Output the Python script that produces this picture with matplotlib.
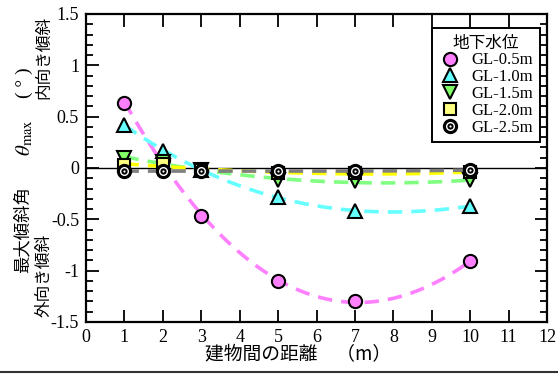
import numpy as np
import matplotlib
matplotlib.use("Agg")
import matplotlib.pyplot as plt
from matplotlib.lines import Line2D
from matplotlib.legend_handler import HandlerTuple
from matplotlib.ticker import MultipleLocator, FormatStrFormatter

plt.rcParams["mathtext.fontset"] = "stix"

distance = [1, 2, 3, 5, 7, 10]
series_labels = ["GL-0.5m", "GL-1.0m", "GL-1.5m", "GL-2.0m", "GL-2.5m"]
tilt_gl05 = [0.63, 0.08, -0.47, -1.10, -1.30, -0.91]
tilt_gl10 = [0.42, 0.17, -0.02, -0.28, -0.42, -0.37]
tilt_gl15 = [0.10, 0.06, -0.02, -0.12, -0.13, -0.12]
tilt_gl20 = [0.03, 0.04, -0.02, -0.05, -0.05, -0.04]
tilt_gl25 = [-0.03, -0.03, -0.03, -0.03, -0.03, -0.02]
x_ticks = list(range(0, 13))
y_ticks = [-1.5, -1.0, -0.5, 0.0, 0.5, 1.0, 1.5]

series = [tilt_gl05, tilt_gl10, tilt_gl15, tilt_gl20, tilt_gl25]
face_colors = ["#ff80ff", "#66ffff", "#80ff66", "#ffff80", "black"]
line_colors = ["#ff80ff", "#66ffff", "#80ff80", "#ffff00", "#808080"]
markers = ["o", "^", "v", "s", "o"]

W, H = 558, 374
fig = plt.figure(figsize=(W / 100, H / 100), dpi=100)
ax = fig.add_axes([86 / W, 1 - 322 / H, (547 - 86) / W, (322 - 14) / H])

serif = "Liberation Serif"
jp = ["Noto Sans CJK JP", "DejaVu Sans"]

ax.axhline(0, color="black", lw=1.0, zorder=2)

xs = np.linspace(1, 10, 200)
for vals, lc in zip(series, line_colors):
    coef = np.polyfit(distance, vals, 3)
    ax.plot(xs, np.polyval(coef, xs), color=lc, lw=2.6, dashes=(4, 2.5), zorder=3)

ms = 9.5
for vals, fc, mk in zip(series, face_colors, markers):
    ax.plot(distance, vals, linestyle="none", marker=mk, ms=ms if mk != "s" else 8.5,
            mfc=fc, mec="black", mew=1.5, zorder=5)
# ring pattern for the deepest level
ax.plot(distance, tilt_gl25, linestyle="none", marker="o", ms=5.5, mfc="none",
        mec="white", mew=1.0, zorder=6)
ax.plot(distance, tilt_gl25, linestyle="none", marker="o", ms=1.6, mfc="white",
        mec="white", mew=0, zorder=7)

ax.set_xlim(0, 12)
ax.set_ylim(-1.5, 1.5)
ax.set_xticks(x_ticks)
ax.set_yticks(y_ticks)
ax.yaxis.set_major_formatter(FormatStrFormatter("%g"))
ax.yaxis.set_minor_locator(MultipleLocator(0.1))
ax.tick_params(which="both", direction="in", top=True, right=True, width=1.3)
ax.tick_params(which="major", length=9, labelsize=13, pad=5)
ax.tick_params(which="minor", length=5)
for lab in ax.get_xticklabels() + ax.get_yticklabels():
    lab.set_fontfamily(serif)
for sp in ax.spines.values():
    sp.set_linewidth(1.6)

# legend
handles = []
for fc, mk in zip(face_colors[:4], markers[:4]):
    handles.append(Line2D([], [], linestyle="none", marker=mk, ms=ms if mk != "s" else 8.5,
                          mfc=fc, mec="black", mew=1.5))
ring = (Line2D([], [], linestyle="none", marker="o", ms=ms, mfc="black", mec="black", mew=1.5),
        Line2D([], [], linestyle="none", marker="o", ms=5.5, mfc="none", mec="white", mew=1.0),
        Line2D([], [], linestyle="none", marker="o", ms=1.6, mfc="white", mec="white", mew=0))
handles.append(ring)
leg = ax.legend(handles, series_labels, loc="upper right", bbox_to_anchor=(0.985, 0.955),
                title="地下水位", prop={"family": serif, "size": 12},
                handler_map={tuple: HandlerTuple(ndivide=1)},
                fancybox=False, edgecolor="black", framealpha=1,
                handlelength=1.4, handletextpad=0.6, labelspacing=0.05,
                borderpad=0.4, borderaxespad=0)
leg.get_title().set_fontfamily(jp)
leg.get_title().set_fontsize(12)
leg.get_frame().set_linewidth(1.4)
leg.set_zorder(10)

# axis titles
fig.text(298 / W, 1 - 355 / H, "建物間の距離　（m）", family=jp, fontsize=13.5,
         ha="center", va="center")
fig.text(23 / W, 1 - 230 / H, "最大傾斜角", family=jp, fontsize=12.5,
         rotation=90, ha="center", va="center")
fig.text(25 / W, 1 - 138 / H, r"$\theta_{\rm max}$", fontsize=15,
         rotation=90, ha="center", va="center")
fig.text(24 / W, 1 - 83 / H, "( ° )", family=serif, fontsize=14,
         rotation=90, ha="center", va="center")
fig.text(44 / W, 1 - 57 / H, "内向き傾斜", family=jp, fontsize=12,
         rotation=90, ha="center", va="center")
fig.text(44 / W, 1 - 275 / H, "外向き傾斜", family=jp, fontsize=12,
         rotation=90, ha="center", va="center")

fig.add_artist(Line2D([0, 1], [1 - 372 / H, 1 - 372 / H], transform=fig.transFigure,
                      color="#333333", lw=1.5))

fig.savefig("out.png", dpi=100)
